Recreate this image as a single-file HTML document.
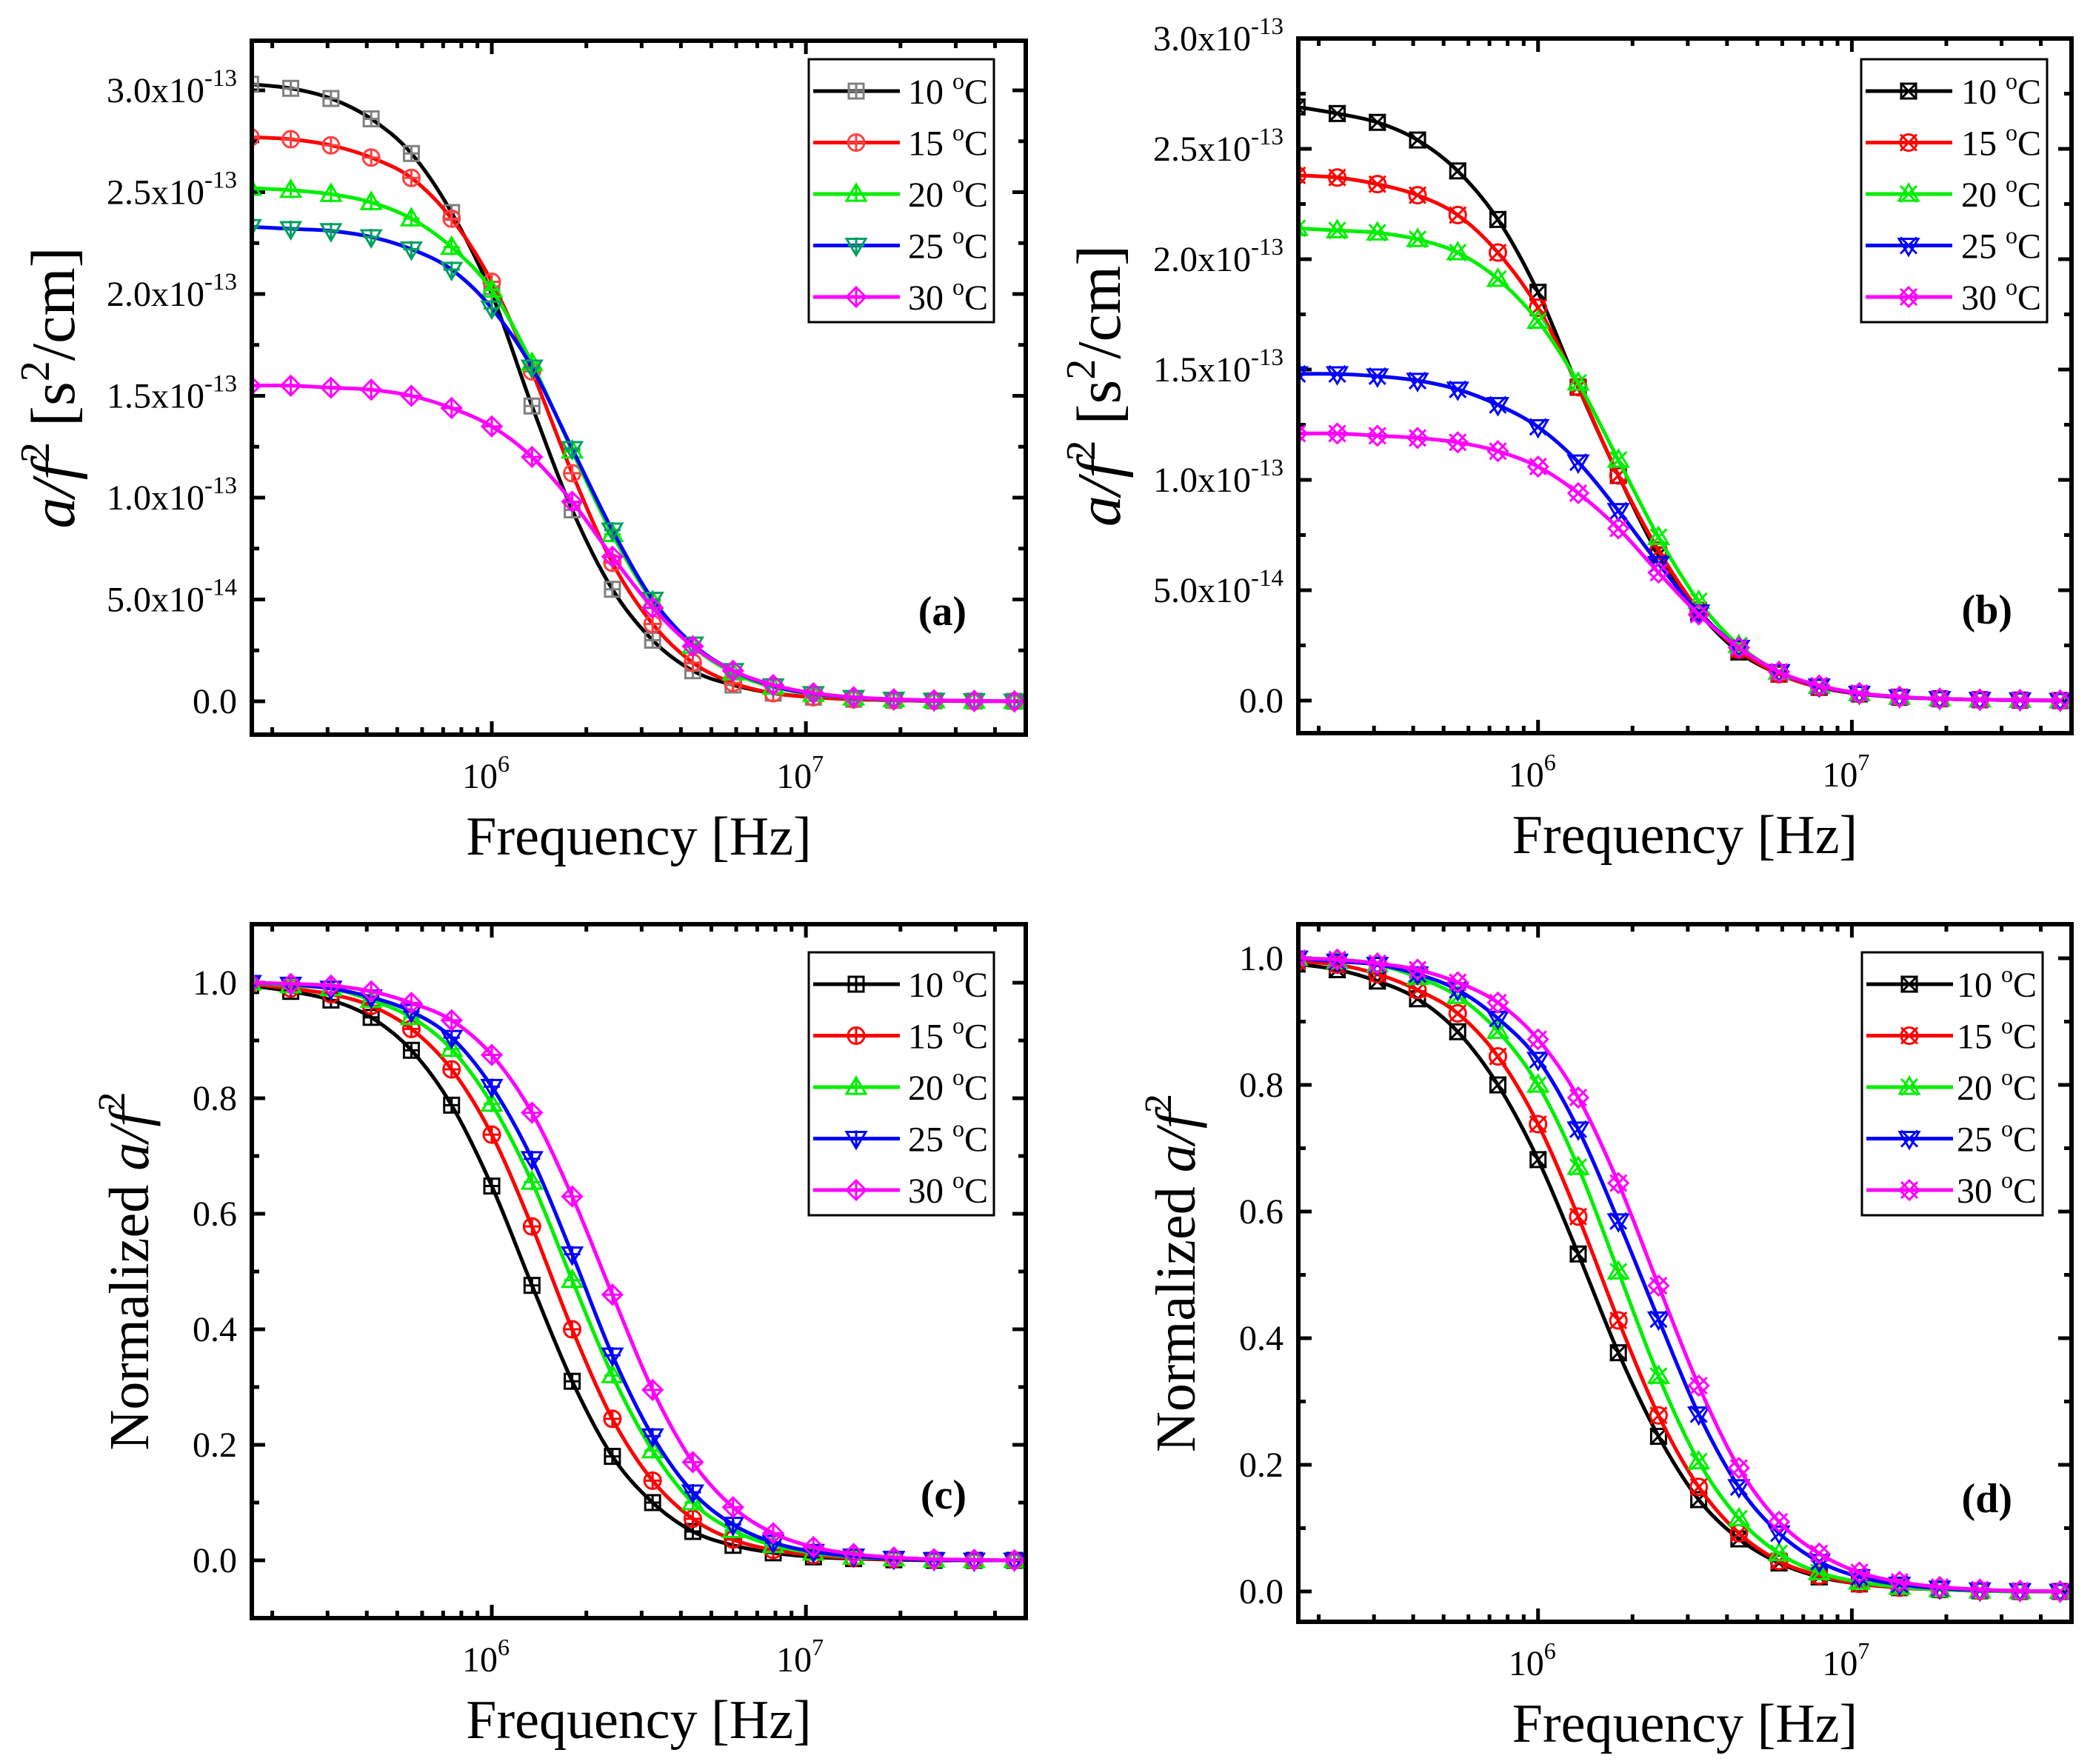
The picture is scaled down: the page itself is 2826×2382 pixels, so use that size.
<!DOCTYPE html>
<html><head><meta charset="utf-8">
<style>
html,body{margin:0;padding:0;background:#fff;}
svg{display:block;font-family:"Liberation Serif","DejaVu Serif",serif;}
</style></head>
<body>
<svg id="chart" xmlns="http://www.w3.org/2000/svg" width="2826" height="2382" viewBox="0 0 2826 2382"></svg>
<script>
// ---------- data ----------
const pointIndex = [0,1,2,3,4,5,6,7,8,9,10,11,12,13,14,15,16,17,18,19];
const seriesLabels = ["10 \u00B0C","15 \u00B0C","20 \u00B0C","25 \u00B0C","30 \u00B0C"];
const xTickExponents = [6,7];
// panel (a) values in units of 1e-13
const a10 = [3.03,3.01,2.96,2.86,2.69,2.40,2.00,1.45,0.94,0.55,0.30,0.15,0.08,0.04,0.02,0.01,0.005,0.002,0.001,0];
const a15 = [2.77,2.76,2.73,2.67,2.57,2.37,2.06,1.62,1.12,0.68,0.38,0.19,0.09,0.04,0.02,0.01,0.005,0.002,0.001,0];
const a20 = [2.52,2.51,2.49,2.45,2.37,2.23,2.02,1.66,1.23,0.82,0.49,0.27,0.14,0.07,0.035,0.017,0.008,0.004,0.002,0];
const a25 = [2.33,2.32,2.31,2.28,2.22,2.12,1.93,1.64,1.24,0.84,0.50,0.28,0.15,0.075,0.037,0.018,0.009,0.004,0.002,0];
const a30 = [1.55,1.55,1.54,1.53,1.50,1.44,1.35,1.20,0.98,0.71,0.46,0.27,0.15,0.08,0.04,0.02,0.01,0.005,0.002,0];
// panel (b)
const b10 = [2.69,2.66,2.62,2.54,2.40,2.18,1.85,1.42,1.02,0.66,0.40,0.22,0.12,0.06,0.03,0.015,0.008,0.004,0.002,0];
const b15 = [2.38,2.37,2.34,2.29,2.20,2.03,1.78,1.42,1.02,0.68,0.41,0.23,0.12,0.06,0.03,0.015,0.008,0.004,0.002,0];
const b20 = [2.14,2.13,2.12,2.09,2.03,1.91,1.72,1.44,1.09,0.74,0.45,0.25,0.13,0.065,0.032,0.016,0.008,0.004,0.002,0];
const b25 = [1.48,1.48,1.47,1.45,1.41,1.34,1.24,1.08,0.86,0.62,0.40,0.24,0.13,0.065,0.032,0.016,0.008,0.004,0.002,0];
const b30 = [1.21,1.21,1.20,1.19,1.17,1.13,1.06,0.94,0.78,0.58,0.39,0.24,0.13,0.068,0.034,0.017,0.008,0.004,0.002,0];
// panel (c)
const c10 = [0.995,0.985,0.97,0.94,0.883,0.788,0.648,0.476,0.31,0.18,0.10,0.05,0.026,0.013,0.006,0.003,0.001,0,0,0];
const c15 = [0.998,0.99,0.98,0.96,0.92,0.85,0.737,0.578,0.40,0.245,0.138,0.072,0.036,0.018,0.009,0.004,0.002,0.001,0,0];
const c20 = [1.0,0.995,0.99,0.97,0.94,0.885,0.79,0.655,0.485,0.32,0.19,0.10,0.052,0.026,0.013,0.006,0.003,0.001,0,0];
const c25 = [1.0,0.997,0.99,0.975,0.95,0.905,0.82,0.695,0.53,0.355,0.215,0.118,0.062,0.031,0.015,0.007,0.003,0.001,0,0];
const c30 = [1.0,0.998,0.995,0.985,0.965,0.935,0.875,0.775,0.63,0.46,0.295,0.17,0.092,0.047,0.023,0.011,0.005,0.002,0.001,0];
// panel (d)
const d10 = [0.991,0.982,0.964,0.936,0.884,0.80,0.682,0.533,0.377,0.245,0.145,0.083,0.045,0.023,0.012,0.006,0.003,0.001,0,0];
const d15 = [0.995,0.99,0.975,0.95,0.913,0.845,0.738,0.592,0.428,0.278,0.165,0.092,0.048,0.025,0.012,0.006,0.003,0.001,0,0];
const d20 = [1.0,0.995,0.99,0.97,0.94,0.885,0.80,0.67,0.505,0.34,0.205,0.115,0.06,0.03,0.015,0.007,0.003,0.001,0,0];
const d25 = [1.0,0.995,0.99,0.975,0.95,0.905,0.84,0.73,0.585,0.43,0.28,0.165,0.092,0.047,0.023,0.011,0.005,0.002,0.001,0];
const d30 = [1.0,0.998,0.992,0.982,0.962,0.93,0.872,0.78,0.645,0.483,0.325,0.195,0.11,0.06,0.03,0.015,0.007,0.003,0.001,0];
const aTicks = ["0.0","5.0x10|-14","1.0x10|-13","1.5x10|-13","2.0x10|-13","2.5x10|-13","3.0x10|-13"];
const normTicks = ["0.0","0.2","0.4","0.6","0.8","1.0"];

// ---------- drawing ----------
const NS="http://www.w3.org/2000/svg";
const svg=document.getElementById('chart');
function mk(tag,attrs,parent){const e=document.createElementNS(NS,tag);for(const k in attrs)e.setAttribute(k,attrs[k]);(parent||svg).appendChild(e);return e;}
const lineColors=["#000000","#ff0000","#00ee00","#0000ff","#ff00ff"];
const freqOf = i => 6 + (i-6)*0.128; // log10 frequency of each sample

function panel(o){
  const g=mk('g',{});
  
  
  const X=lg=>o.L+(lg-o.lx0)/(o.lx1-o.lx0)*(o.R-o.L);
  const Y=v=>o.y0px-(v/o.unit)*o.unitPx;
  const clip=mk('clipPath',{id:'clip'+o.id},g);
  mk('rect',{x:o.L,y:o.T,width:o.R-o.L,height:o.B-o.T},clip);
  const tg=mk('g',{stroke:'#000','stroke-width':5},g);
  for(let d=5;d<=7;d++)for(let m=1;m<=9;m++){
    const lg=d+Math.log10(m); if(lg<o.lx0||lg>o.lx1)continue;
    const x=X(lg), len=m===1?18:10;
    mk('line',{x1:x,y1:o.B,x2:x,y2:o.B-len},tg);
    mk('line',{x1:x,y1:o.T,x2:x,y2:o.T+len},tg);
  }
  xTickExponents.forEach(e=>{
    const t=mk('text',{x:X(e)-8,y:o.B+72,'font-size':48,'text-anchor':'middle'},g);
    
    
    t.textContent='10';
    const s=mk('tspan',{'font-size':32,dy:-22},t);s.textContent=String(e);
  });
  o.ticks.forEach((lab,i)=>{
    const v=i*o.unit, y=Y(v);
    mk('line',{x1:o.L,y1:y,x2:o.L+18,y2:y},tg);
    mk('line',{x1:o.R,y1:y,x2:o.R-18,y2:y},tg);
    const ym=Y(v+o.unit/2);
    if(ym>o.T+5){mk('line',{x1:o.L,y1:ym,x2:o.L+10,y2:ym},tg);mk('line',{x1:o.R,y1:ym,x2:o.R-10,y2:ym},tg);}
    const yb=Y(v-o.unit/2);
    if(i===0&&yb<o.B-5){mk('line',{x1:o.L,y1:yb,x2:o.L+10,y2:yb},tg);mk('line',{x1:o.R,y1:yb,x2:o.R-10,y2:yb},tg);}
    const parts=lab.split('|');
    const t=mk('text',{x:o.L-20,y:y+16,'font-size':48,'text-anchor':'end'},g);
    
    
    if(parts.length>1){
      const a=mk('tspan',{},t);a.textContent=parts[0];
      const b=mk('tspan',{'font-size':33,dy:-22},t);b.textContent=parts[1];
    } else t.textContent=lab;
  });
  o.series.forEach((vals,si)=>{
    const sg=mk('g',{'clip-path':'url(#clip'+o.id+')'},g);
    
    
    const pts=pointIndex.map(i=>[X(freqOf(i)),Y(vals[i])]);
    let d='M'+pts[0][0]+','+pts[0][1];
    for(let i=0;i<pts.length-1;i++){
      const p0=pts[Math.max(0,i-1)],p1=pts[i],p2=pts[i+1],p3=pts[Math.min(pts.length-1,i+2)];
      const c1=[p1[0]+(p2[0]-p0[0])/6,p1[1]+(p2[1]-p0[1])/6];
      const c2=[p2[0]-(p3[0]-p1[0])/6,p2[1]-(p3[1]-p1[1])/6];
      d+=` C${c1[0]},${c1[1]} ${c2[0]},${c2[1]} ${p2[0]},${p2[1]}`;
    }
    mk('path',{d:d,fill:'none',stroke:lineColors[si],'stroke-width':5},sg);
    pts.forEach(p=>marker(sg,p[0],p[1],si,o.style));
  });
  const fr=mk('rect',{x:o.L,y:o.T,width:o.R-o.L,height:o.B-o.T,fill:'none',stroke:'#000','stroke-width':6},g);
  
  
  const lgG=mk('g',{},g);
  
  
  mk('rect',{x:o.legX,y:o.legY,width:o.legW,height:355,fill:'#fff',stroke:'#000','stroke-width':3},lgG);
  seriesLabels.forEach((lab,si)=>{
    const e=mk('g',{},lgG);
    
    
    const y=o.legY+43+si*69.5;
    mk('line',{x1:o.legX+6,y1:y,x2:o.legX+123,y2:y,stroke:lineColors[si],'stroke-width':5},e);
    marker(e,o.legX+64,y,si,o.style);
    const t=mk('text',{x:o.legX+o.legW-8,y:y+17,'font-size':48,'text-anchor':'end'},e);
    t.textContent=lab.split(' ')[0]+' ';
    const s=mk('tspan',{'font-size':32,dy:-20},t);s.textContent='o';
    const c=mk('tspan',{dy:20},t);c.textContent='C';
  });
  const pl=mk('text',{x:o.R-80,y:o.B-148,'font-size':56,'font-weight':'bold','text-anchor':'end'},g);
  
  
  pl.textContent='('+o.id+')';
  const xt=mk('text',{x:(o.L+o.R)/2,y:o.B+162,'font-size':74,'text-anchor':'middle'},g);
  
  
  xt.textContent='Frequency [Hz]';
  const yt=mk('text',{x:0,y:0,'font-size':o.norm?76:84,'text-anchor':'middle',transform:`translate(${o.ytx},${(o.T+o.B)/2}) rotate(-90)`},g);
  
  
  if(o.norm){
    const a=mk('tspan',{},yt);a.textContent='Normalized ';
    const b=mk('tspan',{'font-style':'italic'},yt);b.textContent='a/f';
    const c=mk('tspan',{'font-size':52,dy:-32},yt);c.textContent='2';
  } else {
    const b=mk('tspan',{'font-style':'italic'},yt);b.textContent='a/f';
    const c=mk('tspan',{'font-size':56,dy:-34},yt);c.textContent='2';
    const d=mk('tspan',{dy:34},yt);d.textContent=' [s';
    const e=mk('tspan',{'font-size':56,dy:-34},yt);e.textContent='2';
    const f=mk('tspan',{dy:34},yt);f.textContent='/cm]';
  }
}
function marker(parent,x,y,si,style){
  const mc = style==='a' ? ["#808080","#ff4040","#00ee00","#00a060","#ff00ff"][si]
           : ["#000","#ff0000","#00ee00","#0000ff","#ff00ff"][si];
  const g=mk('g',{fill:'none',stroke:mc,'stroke-width':3},parent);
  const r=11;
  if(si===0) mk('rect',{x:x-r+1,y:y-r+1,width:2*r-2,height:2*r-2},g);
  else if(si===1) mk('circle',{cx:x,cy:y,r:r},g);
  else if(si===2) mk('polygon',{points:`${x},${y-r-2} ${x+r+2},${y+r-2} ${x-r-2},${y+r-2}`},g);
  else if(si===3) mk('polygon',{points:`${x},${y+r+2} ${x+r+2},${y-r+2} ${x-r-2},${y-r+2}`},g);
  else mk('polygon',{points:`${x},${y-r-2} ${x+r+2},${y} ${x},${y+r+2} ${x-r-2},${y}`},g);
  if(style==='b'){
    mk('line',{x1:x-r,y1:y-r,x2:x+r,y2:y+r},g);mk('line',{x1:x-r,y1:y+r,x2:x+r,y2:y-r},g);
  } else {
    mk('line',{x1:x-r,y1:y,x2:x+r,y2:y},g);mk('line',{x1:x,y1:y-r,x2:x,y2:y+r},g);
  }
}
panel({id:'a',L:340,R:1385,T:55,B:992,lx0:5.236,lx1:7.70,y0px:947,unit:0.5,unitPx:137.5,ticks:aTicks,series:[a10,a15,a20,a25,a30],style:'a',legX:1092,legY:80,legW:250,ytx:100,norm:false});
panel({id:'b',L:1753,R:2797,T:52,B:990,lx0:5.236,lx1:7.70,y0px:946,unit:0.5,unitPx:149,ticks:aTicks,series:[b10,b15,b20,b25,b30],style:'b',legX:2513,legY:80,legW:251,ytx:1512,norm:false});
panel({id:'c',L:340,R:1385,T:1248,B:2185,lx0:5.236,lx1:7.70,y0px:2107,unit:0.2,unitPx:156,ticks:normTicks,series:[c10,c15,c20,c25,c30],style:'c',legX:1092,legY:1286,legW:250,ytx:200,norm:true});
panel({id:'d',L:1753,R:2797,T:1248,B:2190,lx0:5.236,lx1:7.70,y0px:2149,unit:0.2,unitPx:171,ticks:normTicks,series:[d10,d15,d20,d25,d30],style:'b',legX:2514,legY:1286,legW:244,ytx:1613,norm:true});
</script>
</body></html>
